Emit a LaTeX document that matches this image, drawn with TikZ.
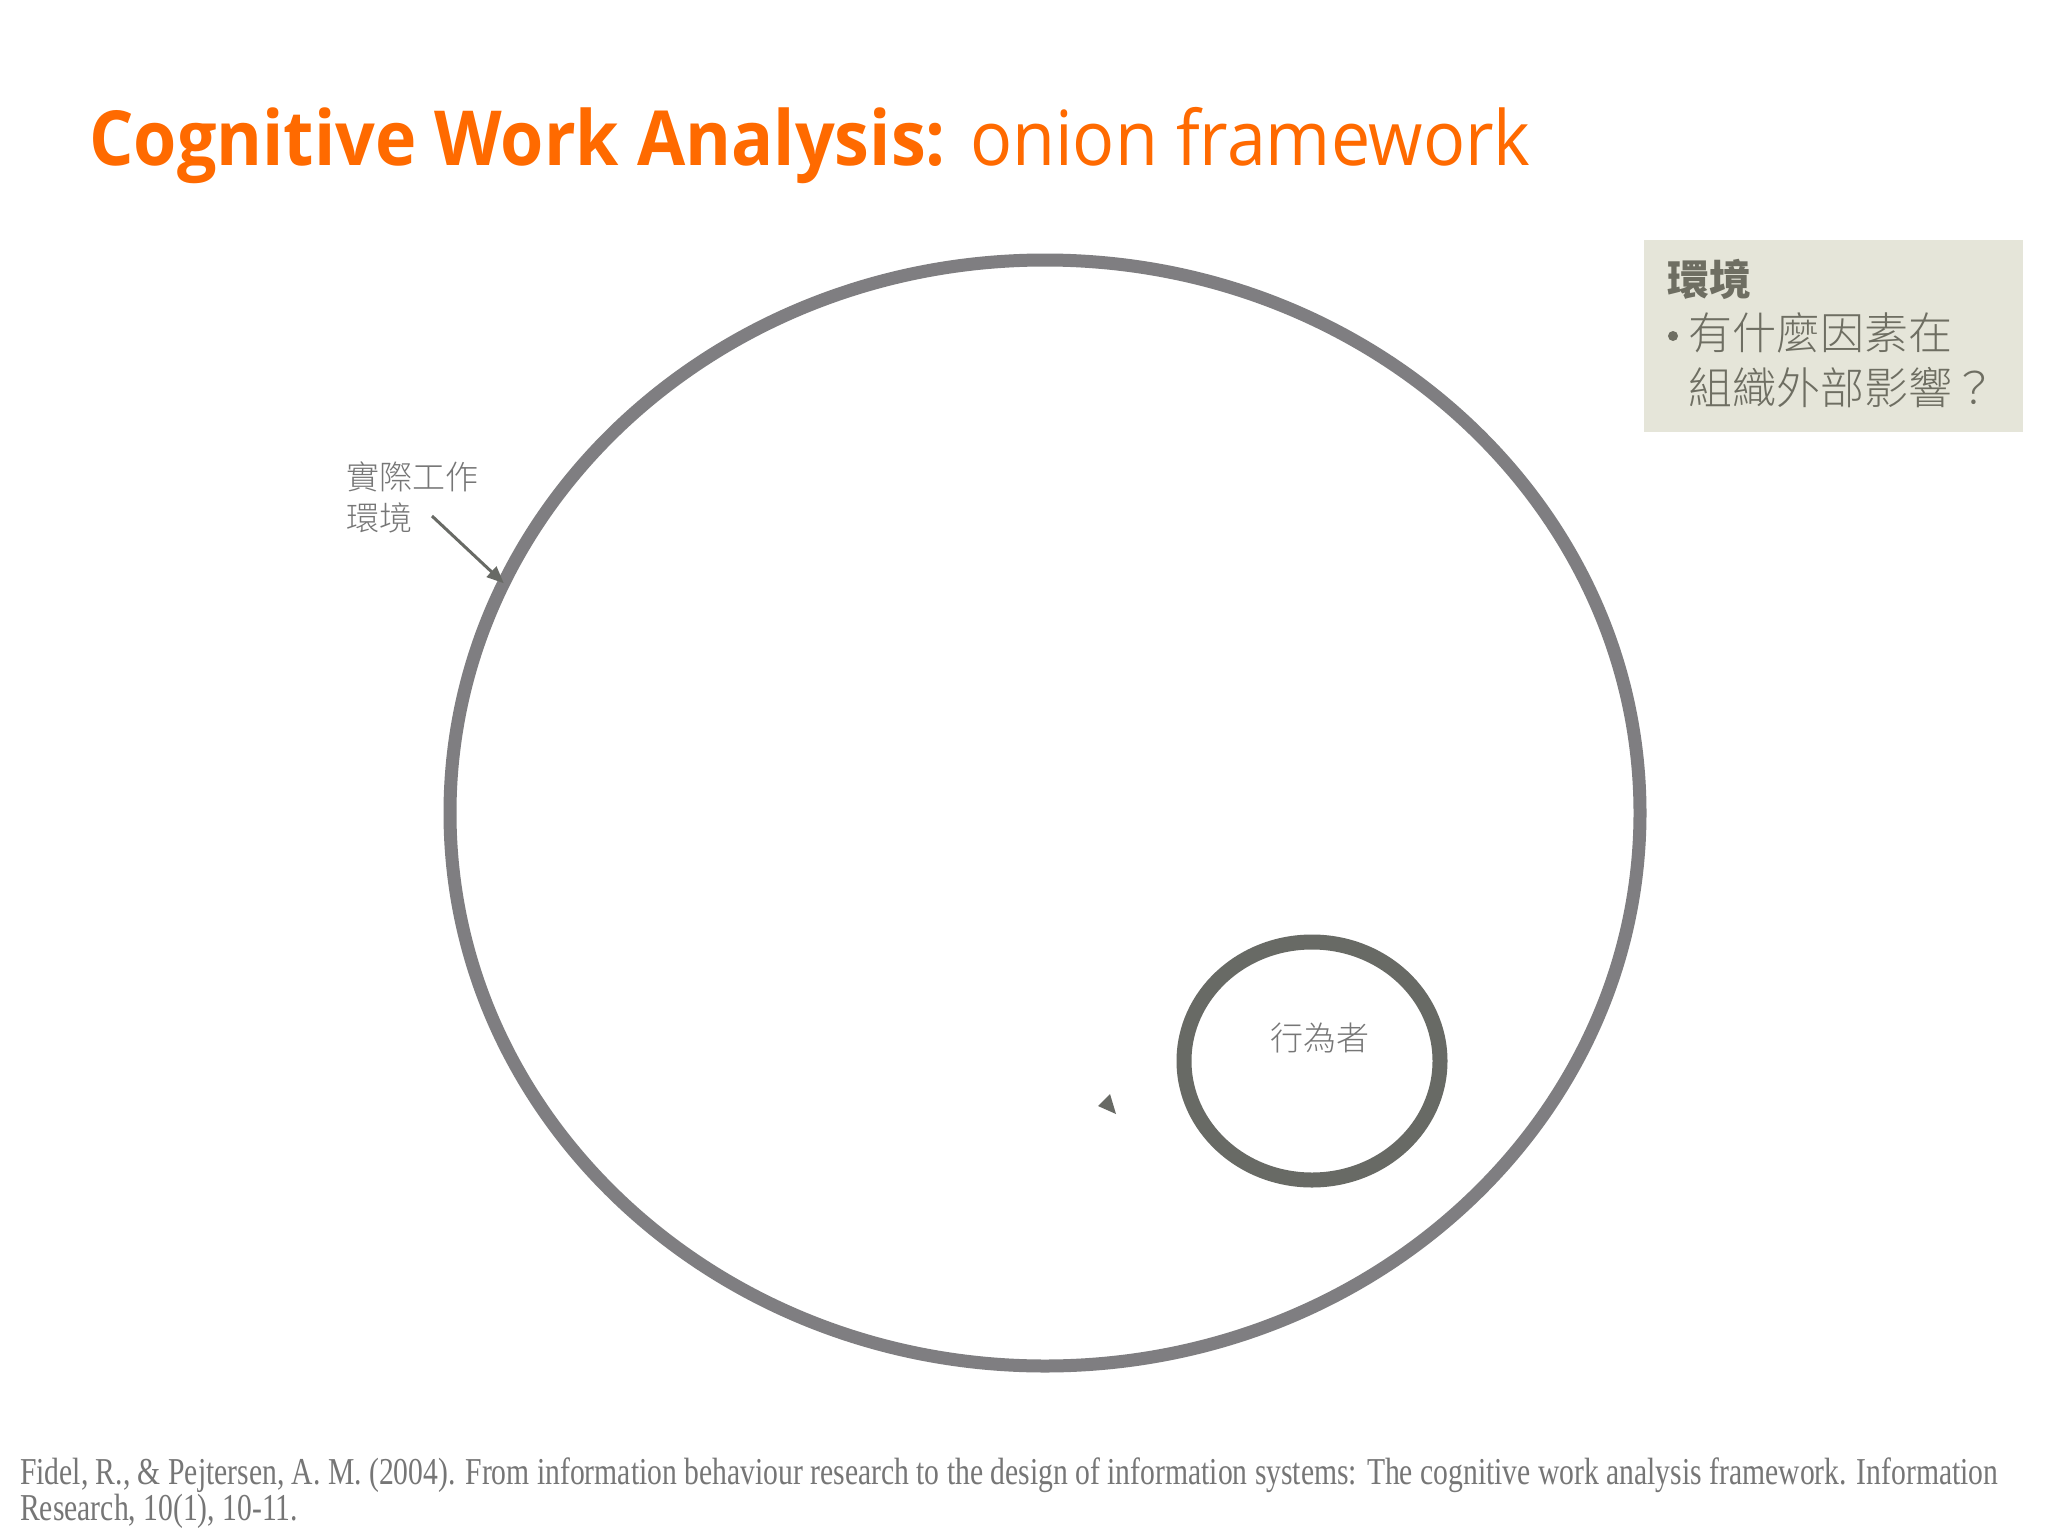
\documentclass[tikz,border=0pt]{standalone}
\usepackage{fontspec}
\setmainfont{Open Sans}[FakeStretch=0.92]
\IfFontExistsTF{Noto Sans CJK TC Light}
  {\newfontfamily\cjk{Noto Sans CJK TC Light}}
  {\newfontfamily\cjk{Noto Sans CJK TC}}
\newfontfamily\cjkb{Noto Sans CJK TC}
\newfontfamily\citefont[FakeStretch=0.78]{Liberation Serif}
\usetikzlibrary{arrows.meta,shapes.geometric}
\definecolor{orangeT}{HTML}{FF6A00}
\definecolor{ringA}{HTML}{7F7E81}
\definecolor{ringB}{HTML}{686A65}
\definecolor{boxbg}{HTML}{E5E5D9}
\definecolor{boxtx}{HTML}{6E6E62}
\definecolor{lbl}{HTML}{767676}
\tikzset{
  cjklabel/.style={font=\cjk\fontsize{33}{41}\selectfont, text=lbl, inner sep=0pt, align=left},
  boxtext/.style={font=\cjk\fontsize{44}{55}\selectfont, text=boxtx, inner sep=0pt, anchor=west},
  ring/.style={ellipse, inner sep=0pt, outer sep=0pt},
}
\begin{document}
\begin{tikzpicture}[x=1pt,y=-1pt]
\useasboundingbox (0,0) rectangle (2048,1536);
\fill[white] (0,0) rectangle (2048,1536);
% title
\node[anchor=base west, inner sep=0pt, text=orangeT, font=\fontsize{76}{90}\selectfont] (title) at (89,165) {\textbf{Cognitive Work Analysis:} onion framework};
% info box
\node[fill=boxbg, minimum width=379, minimum height=192, anchor=north west, inner sep=0pt] (box) at (1644,240) {};
\node[boxtext, font=\cjkb\bfseries\fontsize{42}{50}\selectfont] (bt) at (1667,279) {環境};
\node[circle, fill=boxtx, minimum size=10, inner sep=0pt] (bul) at (1673,336) {};
\node[boxtext] (b1) at (1688,333) {有什麼因素在};
\node[boxtext] (b2) at (1688,388) {組織外部影響？};
% rings
\node[ring, draw=ringA, line width=13, minimum width=1190, minimum height=1106] (env) at (1045,813) {};
\node[ring, draw=ringB, line width=15, minimum width=256, minimum height=238] (actor) at (1312,1061) {};
\node[cjklabel] (actorlbl) at (1320,1038) {行為者};
% label + arrow
\node[cjklabel, anchor=north west] (envlbl) at (346,462) {實際工作\\環境};
\coordinate (arrS) at (432,516);
\draw[ringB, line width=3, -{Triangle[length=17, width=14]}] (arrS) -- (env.157);
% small triangle
\fill[ringB] (1098,1106) -- (1110,1094) -- (1116,1114) -- cycle;
% citation
\node[anchor=base west, inner sep=0pt, text=lbl, font=\citefont\fontsize{38}{36}\selectfont, align=left] (cite) at (20,1520) {Fidel, R., \& Pejtersen, A. M. (2004). From information behaviour research to the design of information systems: The cognitive work analysis framework. Information\\Research, 10(1), 10-11.};
\end{tikzpicture}
\end{document}
